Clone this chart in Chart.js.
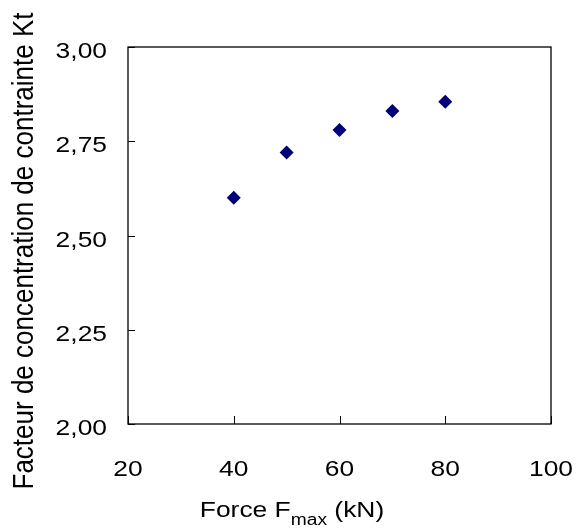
<!DOCTYPE html>
<html>
<head>
<meta charset="utf-8">
<script src="https://cdn.jsdelivr.net/npm/chart.js@4/dist/chart.umd.min.js"></script>
<style>
  html, body { margin: 0; padding: 0; background: #fff; }
  #wrap { width: 576px; height: 528px; }
</style>
</head>
<body>
<div id="wrap"><canvas id="kt"></canvas></div>
<script>
// donnees
const forces = [40, 50, 60, 70, 80];           // F max (kN)
const ktValues = [2.60, 2.72, 2.78, 2.83, 2.855];
const xTicks = [20, 40, 60, 80, 100];
const yTicks = [2.00, 2.25, 2.50, 2.75, 3.00];

const FONT = "'Liberation Sans', Arial, sans-serif";
const SX = 1.2; // le texte de l'original est un peu etire en largeur

const fmt = v => v.toFixed(2).replace(".", ",");

function stretchedText(ctx, txt, x, y, align) {
  const w = ctx.measureText(txt).width * SX;
  let x0 = x;
  if (align === "center") x0 = x - w / 2;
  else if (align === "right") x0 = x - w;
  ctx.save();
  ctx.translate(x0, y);
  ctx.scale(SX, 1);
  ctx.textAlign = "left";
  ctx.fillText(txt, 0, 0);
  ctx.restore();
  return w;
}

// cadre, graduations vers l'interieur, libelles et titres d'axes
const decor = {
  id: "decor",
  afterDraw(chart) {
    const { ctx, chartArea: a, scales: { x, y } } = chart;
    ctx.save();
    ctx.strokeStyle = "#000";
    ctx.lineWidth = 1.3;
    ctx.strokeRect(a.left, a.top, a.right - a.left, a.bottom - a.top);

    ctx.lineWidth = 1;
    ctx.beginPath();
    yTicks.forEach(v => {
      const py = Math.round(y.getPixelForValue(v)) + 0.5;
      ctx.moveTo(a.left, py); ctx.lineTo(a.left + 7, py);
    });
    xTicks.forEach(v => {
      const px = Math.round(x.getPixelForValue(v)) + 0.5;
      ctx.moveTo(px, a.bottom); ctx.lineTo(px, a.bottom - 8);
    });
    ctx.stroke();

    ctx.fillStyle = "#000";
    ctx.textBaseline = "alphabetic";
    ctx.font = "22px " + FONT;
    yTicks.forEach(v => {
      stretchedText(ctx, fmt(v), a.left - 21, y.getPixelForValue(v) + 11, "right");
    });
    xTicks.forEach(v => {
      stretchedText(ctx, String(v), x.getPixelForValue(v), a.bottom + 52, "center");
    });

    // titre axe Y
    ctx.save();
    ctx.translate(33, 251);
    ctx.rotate(-Math.PI / 2);
    ctx.scale(1, 1.17);
    ctx.font = "26px " + FONT;
    ctx.textAlign = "center";
    ctx.fillText("Facteur de concentration de contrainte Kt", 0, 0);
    ctx.restore();

    // titre axe X : Force F_max (kN)
    const big = "22px " + FONT, small = "16px " + FONT;
    ctx.font = big;
    const w1 = ctx.measureText("Force F").width * SX;
    const w3 = ctx.measureText(" (kN)").width * SX;
    ctx.font = small;
    const w2 = ctx.measureText("max").width * SX;
    let sx = 292 - (w1 + w2 + w3) / 2;
    const base = 517;
    ctx.font = big;   sx += stretchedText(ctx, "Force F", sx, base, "left");
    ctx.font = small; sx += stretchedText(ctx, "max", sx, base + 8, "left");
    ctx.font = big;   stretchedText(ctx, " (kN)", sx, base, "left");
    ctx.restore();
  }
};

new Chart(document.getElementById("kt"), {
  type: "scatter",
  data: {
    datasets: [{
      data: forces.map((f, i) => ({ x: f, y: ktValues[i] })),
      pointStyle: "rectRot",
      pointRadius: 7,
      pointHoverRadius: 7,
      backgroundColor: "#000080",
      borderColor: "#000080",
      borderWidth: 0
    }]
  },
  options: {
    responsive: true,
    maintainAspectRatio: false,
    animation: false,
    layout: { padding: { top: 47, right: 25, left: 0, bottom: 0 } },
    plugins: { legend: { display: false }, tooltip: { enabled: false } },
    scales: {
      x: {
        type: "linear",
        min: 20, max: 100,
        afterBuildTicks: s => { s.ticks = xTicks.map(v => ({ value: v })); },
        afterFit: s => { s.height = 104; s.paddingLeft = 0; s.paddingRight = 0; },
        grid: { display: false, drawTicks: false },
        border: { display: false },
        ticks: { display: false }
      },
      y: {
        min: 2, max: 3,
        afterBuildTicks: s => { s.ticks = yTicks.map(v => ({ value: v })); },
        afterFit: s => { s.width = 128; s.paddingTop = 0; s.paddingBottom = 0; },
        grid: { display: false, drawTicks: false },
        border: { display: false },
        ticks: { display: false }
      }
    }
  },
  plugins: [decor]
});
</script>
</body>
</html>
